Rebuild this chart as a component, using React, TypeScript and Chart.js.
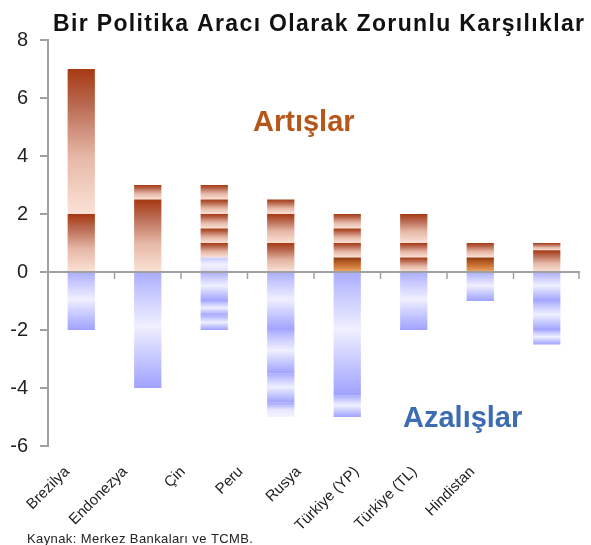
import React, { useEffect, useRef } from 'react';
import { Chart, registerables } from 'chart.js';

Chart.register(...registerables);

const categories = ['Brezilya', 'Endonezya', 'Çin', 'Peru', 'Rusya', 'Türkiye (YP)', 'Türkiye (TL)', 'Hindistan'];
const yMin = -6;
const yMax = 8;
const yStep = 2;

// increases, stacked from 0 upward (segment by segment)
const increases = [
  [2, 5],
  [2.5, 0.5],
  [0.5, 0.5, 0.5, 0.5, 0.5, 0.5],
  [1, 1, 0.5],
  [0.5, 0.5, 0.5, 0.5],
  [0.5, 0.5, 1],
  [0.5, 0.5],
  [0.75, 0.25],
];
const increaseStyles = [
  ['r', 'r'],
  ['r', 'r'],
  ['bl', 'r', 'r', 'r', 'r', 'r'],
  ['r', 'r', 'r'],
  ['o', 'r', 'r', 'r'],
  ['r', 'r', 'r'],
  ['o', 'r'],
  ['r', 'r'],
];
// decreases, stacked from 0 downward
const decreases = [
  [-2],
  [-4],
  [-1, -0.5, -0.5],
  [-2, -1.5, -1, -0.5],
  [-4.25, -0.75],
  [-2],
  [-1],
  [-1, -1, -0.5],
];
const decreaseStyles = [
  ['b'],
  ['b'],
  ['b', 'b', 'b'],
  ['b', 'b', 'b', 'bt'],
  ['b', 'b'],
  ['b'],
  ['b'],
  ['b', 'b', 'b'],
];

// label axis range (labels sit on their own evenly spaced axis, as in the source)
const labelAxisMin = -0.33;
const labelAxisMax = 8.858;

const GRADIENTS: Record<string, [number, string][]> = {
  r: [[0, '#a63912'], [0.25, '#ba6a52'], [0.6, '#e6b7a6'], [1, '#fbe2d6']],
  o: [[0, '#8e3a0e'], [0.45, '#c2692c'], [1, '#f0a866']],
  b: [[0, '#a9abff'], [0.15, '#c2c4ff'], [0.47, '#f0f0ff'], [0.78, '#bfc1ff'], [1, '#a0a2ff']],
  bl: [[0, '#c8caff'], [0.5, '#f2f2ff'], [1, '#dcdcff']],
  bt: [[0, '#a2a4ff'], [0.5, '#e6e6ff'], [1, '#f4f4ff']],
};
const FALLBACK: Record<string, string> = { r: '#d88a70', o: '#c2692c', b: '#c0c2ff', bl: '#e0e0ff', bt: '#d0d0ff' };

type Seg = { from: number; to: number; style: string } | null;

function buildLayers(values: number[][], styles: string[][]) {
  const n = Math.max(...values.map((v) => v.length));
  const layers: { data: (number | null)[]; segs: Seg[] }[] = [];
  for (let k = 0; k < n; k++) {
    const data: (number | null)[] = [];
    const segs: Seg[] = [];
    values.forEach((vals, i) => {
      if (k < vals.length) {
        const from = vals.slice(0, k).reduce((a, b) => a + b, 0);
        data.push(vals[k]);
        segs.push({ from, to: from + vals[k], style: styles[i][k] });
      } else {
        data.push(null);
        segs.push(null);
      }
    });
    layers.push({ data, segs });
  }
  return layers;
}

function makeBg(segs: Seg[]) {
  return (c: any) => {
    if (c.type !== 'data') return '#cccccc';
    const seg = segs[c.dataIndex];
    if (!seg) return 'rgba(0,0,0,0)';
    const y = c.chart.scales && c.chart.scales.y;
    const fb = FALLBACK[seg.style];
    if (!y) return fb;
    const p0 = y.getPixelForValue(seg.from);
    const p1 = y.getPixelForValue(seg.to);
    const top = Math.min(p0, p1);
    const bot = Math.max(p0, p1);
    if (!Number.isFinite(top) || !Number.isFinite(bot) || bot - top < 0.5) return fb;
    const g = c.chart.ctx.createLinearGradient(0, top, 0, bot);
    GRADIENTS[seg.style].forEach(([o, col]) => g.addColorStop(o, col));
    return g;
  };
}

const overlay = {
  id: 'overlay',
  afterDatasetsDraw(chart: any) {
    const { ctx, chartArea, scales } = chart;
    const y0 = scales.y.getPixelForValue(0);
    ctx.save();
    ctx.strokeStyle = '#a0a0a0';
    ctx.lineWidth = 2;
    ctx.beginPath();
    ctx.moveTo(chartArea.left, y0);
    ctx.lineTo(chartArea.right, y0);
    ctx.stroke();
    ctx.lineWidth = 1.5;
    ctx.beginPath();
    for (let i = 1; i <= categories.length; i++) {
      const x =
        i < categories.length
          ? (scales.x.getPixelForValue(i - 1) + scales.x.getPixelForValue(i)) / 2
          : chartArea.right - 1;
      ctx.moveTo(x, y0);
      ctx.lineTo(x, y0 + 7);
    }
    ctx.stroke();
    ctx.restore();
  },
  afterDraw(chart: any) {
    const ctx = chart.ctx;
    ctx.save();
    ctx.textBaseline = 'alphabetic';
    ctx.textAlign = 'left';
    ctx.fillStyle = '#111111';
    ctx.font = 'bold 23px "Liberation Sans", Arial, sans-serif';
    (ctx as any).letterSpacing = '1.35px';
    ctx.fillText('Bir Politika Aracı Olarak Zorunlu Karşılıklar', 53, 31);
    (ctx as any).letterSpacing = '0px';
    ctx.font = 'bold 29px "Liberation Sans", Arial, sans-serif';
    ctx.fillStyle = '#b5571a';
    ctx.fillText('Artışlar', 253, 131);
    ctx.fillStyle = '#3d6cb3';
    ctx.fillText('Azalışlar', 403, 427);
    ctx.font = '13px "Liberation Sans", Arial, sans-serif';
    ctx.fillStyle = '#222222';
    (ctx as any).letterSpacing = '0.4px';
    ctx.fillText('Kaynak: Merkez Bankaları ve TCMB.', 27, 543);
    ctx.restore();
  },
};

export default function App() {
  const ref = useRef<HTMLCanvasElement | null>(null);
  useEffect(() => {
    if (!ref.current) return;
    Chart.defaults.font.family = '"Liberation Sans", Arial, sans-serif';
    const posLayers = buildLayers(increases, increaseStyles);
    const negLayers = buildLayers(decreases, decreaseStyles);
    const datasets = [...posLayers, ...negLayers].map((l, idx) => ({
      label: 'seg' + idx,
      data: l.data,
      backgroundColor: makeBg(l.segs),
      borderWidth: 0,
      barPercentage: 0.41,
      categoryPercentage: 1,
      xAxisID: 'x',
      yAxisID: 'y',
    }));
    const chart = new Chart(ref.current, {
      type: 'bar',
      data: { labels: categories, datasets },
      options: {
        animation: false,
        responsive: false,
        devicePixelRatio: 1,
        layout: { padding: { top: 40, right: 11, left: 0, bottom: 0 } },
        plugins: { legend: { display: false }, tooltip: { enabled: false }, title: { display: false } },
        scales: {
          x: { type: 'category', stacked: true, display: false },
          xl: {
            type: 'linear',
            position: 'bottom',
            offset: false,
            min: labelAxisMin,
            max: labelAxisMax,
            afterBuildTicks: (s: any) => {
              s.min = labelAxisMin;
              s.max = labelAxisMax;
              s.ticks = categories.map((_, i) => ({ value: i }));
            },
            afterFit: (s: any) => {
              s.height = 99;
            },
            grid: { display: false, drawTicks: false, offset: false },
            border: { display: false },
            ticks: {
              autoSkip: false,
              minRotation: 45,
              maxRotation: 45,
              padding: 17,
              color: '#222222',
              font: { size: 15 },
              callback: (v: any) => categories[v] ?? '',
            },
          },
          y: {
            stacked: true,
            min: yMin,
            max: yMax,
            afterFit: (s: any) => {
              s.width = 48;
            },
            ticks: { stepSize: yStep, padding: 12, color: '#222222', font: { size: 20 } },
            grid: { drawOnChartArea: false, drawTicks: true, tickLength: 8, color: '#a0a0a0', lineWidth: 2 },
            border: { color: '#a0a0a0', width: 2 },
          },
        },
      },
      plugins: [overlay],
    } as any);
    return () => chart.destroy();
  }, []);
  return (
    <div style={{ position: 'fixed', left: 0, top: 0, width: 591, height: 545, background: '#ffffff' }}>
      <canvas ref={ref} width={591} height={545} style={{ width: 591, height: 545, display: 'block' }} />
    </div>
  );
}
